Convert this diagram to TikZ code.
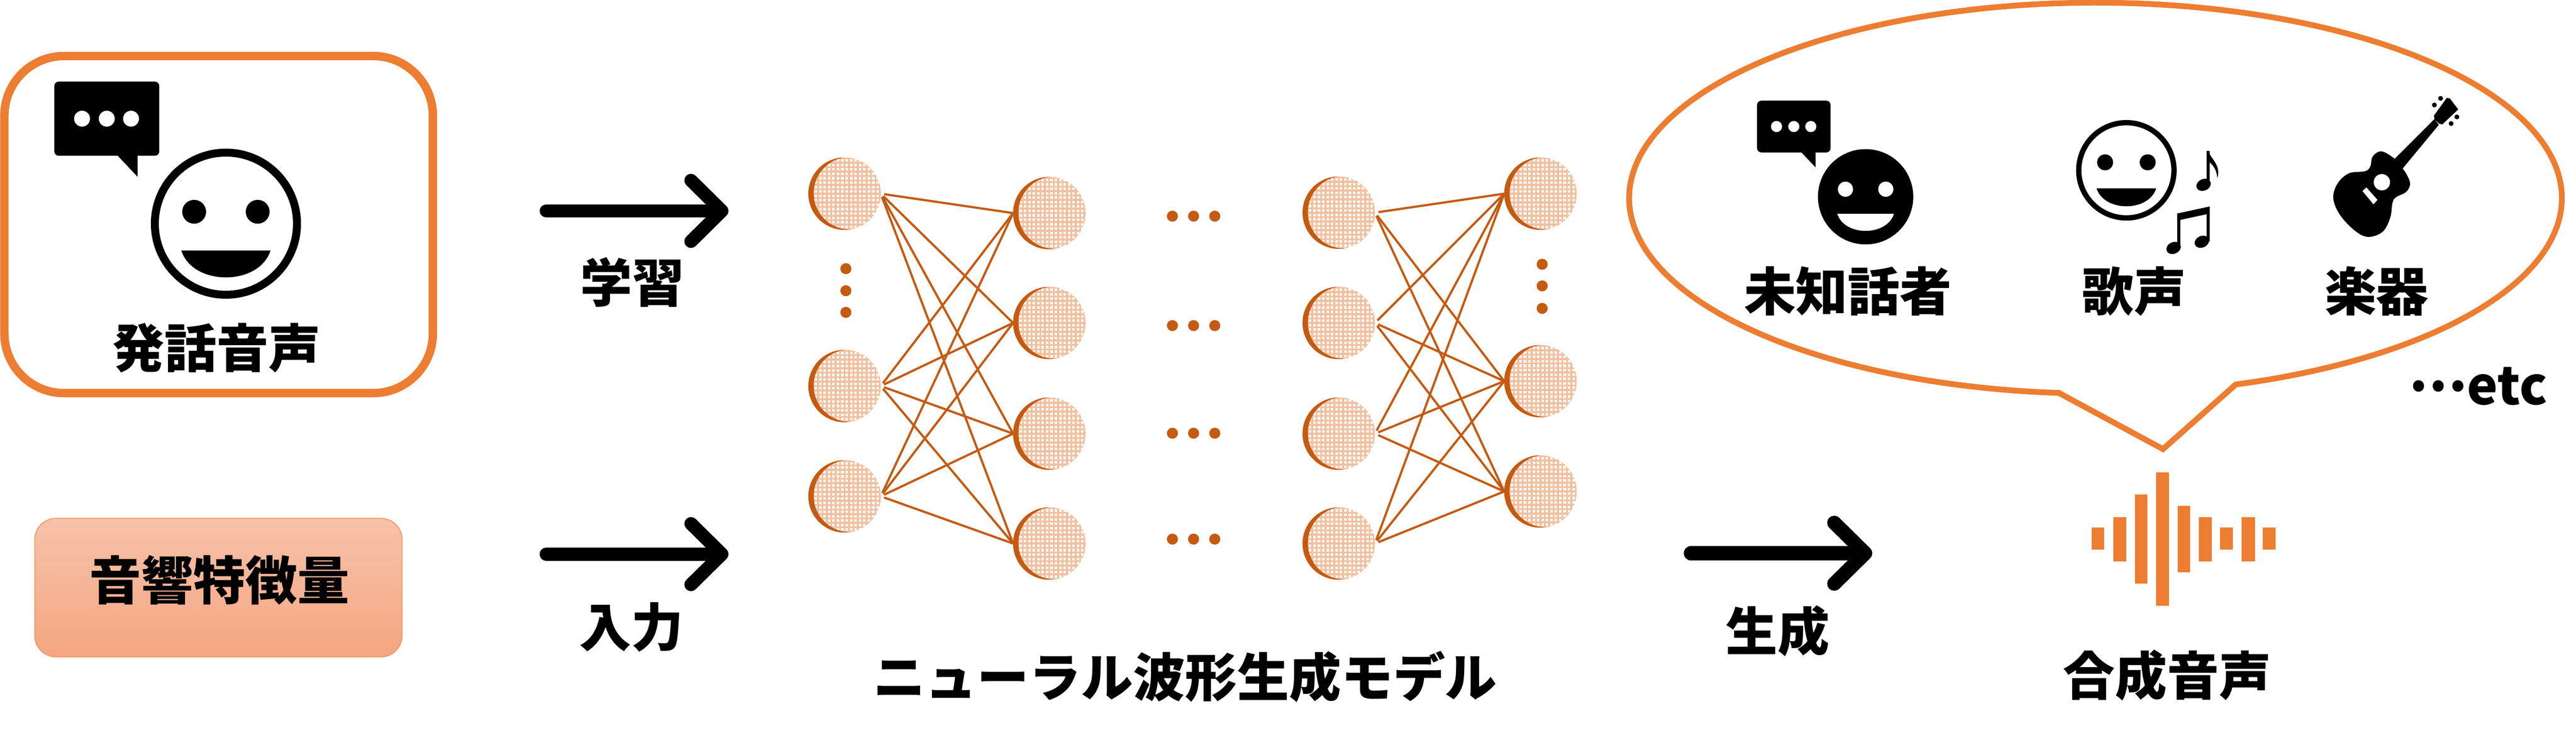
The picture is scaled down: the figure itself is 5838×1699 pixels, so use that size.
\documentclass[tikz,border=0pt]{standalone}
\usepackage{fontspec}
\setmainfont{Noto Sans CJK JP}
\usetikzlibrary{arrows.meta}
\definecolor{acc}{HTML}{ED7D31}
\definecolor{net}{HTML}{C55A11}
\definecolor{netgrid}{HTML}{EFC0A0}
\definecolor{netbase}{HTML}{FDF5EF}
\definecolor{boxtop}{HTML}{F6C2AA}
\definecolor{boxbot}{HTML}{F4A680}
\tikzset{
  lbl/.style={font=\fontsize{33.5pt}{40pt}\selectfont\bfseries, anchor=base, inner sep=0pt, outer sep=0pt, text=black},
  link/.style={draw=net, line width=0.05cm, shorten <=0.08cm},
  netdot/.style={fill=net},
  wavebar/.style={fill=acc},
  bigarrow/.style={line width=#1, line cap=round, draw=black,
    -{Straight Barb[length=0.70cm, width=1.38cm, round, line width=#1]}},
  neuron/.style={circle, minimum size=1.64cm, inner sep=0pt, outer sep=0pt, fill=netbase,
    path picture={
      \begin{scope}[shift={(path picture bounding box.center)}]
        \foreach \v in {-90,-80,...,90} {
          \draw[netgrid, line width=0.04cm] (\v,-90) -- (\v,90);
          \draw[netgrid, line width=0.04cm] (-90,\v) -- (90,\v);
        }
        \fill[net, even odd rule] (0,0) circle (0.84cm) (12,-1) circle (0.82cm);
      \end{scope}
    }},
  pics/spkbubble/.style={code={
    \fill[black, rounded corners=0.1cm] (0,0) rectangle (238,168);
    \fill[black] (142,166) -- (189,216) -- (189,166) -- cycle;
    \fill[white] (63,84) circle (0.18cm) (119,84) circle (0.18cm) (174,84) circle (0.18cm);
  }},
  pics/smile/.style 2 args={code={
    \fill[#1] (0,0) circle (1.6cm);
    \fill[black, even odd rule] (0,0) circle (1.7cm) (0,0) circle (1.52cm);
    \fill[#2] (-72,-27) circle (0.27cm) (72,-27) circle (0.27cm);
    \fill[#2] (-101,61) -- (101,61) .. controls (75,142) and (-75,142) .. cycle;
  }},
}
\begin{document}
\begin{tikzpicture}[x=0.01cm, y=-0.01cm]
\useasboundingbox (0,0) rectangle (5838,1699);
\fill[white] (0,0) rectangle (5838,1699);

% speech panel
\draw[acc, line width=0.19cm, rounded corners=1.35cm] (10,127) rectangle (981,891);
\pic at (123,185) {spkbubble};
\pic at (512,507) {smile={white}{black}};
\node[lbl] (speech) at (491,833) {発話音声};

% acoustic feature box
\node[draw=acc!80!white, line width=0.02cm, top color=boxtop, bottom color=boxbot,
      rounded corners=0.48cm, minimum width=8.32cm, minimum height=3.14cm, inner sep=0pt] (featbox) at (495,1332) {};
\node[lbl] (feat) at (497,1360) {音響特徴量};

% arrows
\coordinate (a1s) at (1238,478); \coordinate (a1e) at (1651,478);
\coordinate (a2s) at (1238,1256); \coordinate (a2e) at (1651,1256);
\coordinate (a3s) at (3832,1254); \coordinate (a3e) at (4243,1254);
\draw[bigarrow=0.30cm] (a1s) -- (a1e);
\draw[bigarrow=0.30cm] (a2s) -- (a2e);
\draw[bigarrow=0.32cm] (a3s) -- (a3e);
\node[lbl] (learn) at (1433,685) {学習};
\node[lbl] (input) at (1431,1466) {入力};
\node[lbl] (gen) at (4029,1475) {生成};

% network
\node[neuron] (a1) at (1914,439) {};
\node[neuron] (a2) at (1914,875) {};
\node[neuron] (a3) at (1914,1125) {};
\node[neuron] (b1) at (2378,483) {};
\node[neuron] (b2) at (2378,732) {};
\node[neuron] (b3) at (2378,983) {};
\node[neuron] (b4) at (2378,1232) {};
\node[neuron] (c1) at (3034,482) {};
\node[neuron] (c2) at (3034,732) {};
\node[neuron] (c3) at (3034,983) {};
\node[neuron] (c4) at (3034,1232) {};
\node[neuron] (d1) at (3491,439) {};
\node[neuron] (d2) at (3491,864) {};
\node[neuron] (d3) at (3491,1114) {};
\foreach \i in {1,2,3} \foreach \j in {1,2,3,4} \draw[link] (a\i.east) -- (b\j.west);
\foreach \i in {1,2,3,4} \foreach \j in {1,2,3} \draw[link] (c\i.east) -- (d\j.west);
\foreach \yy in {609,659,708} \fill[netdot] (1917,\yy) circle (0.125cm);
\foreach \yy in {599,648,699} \fill[netdot] (3495,\yy) circle (0.125cm);
\foreach \yy in {490,738,982,1222} \foreach \xx in {2657,2705,2753} \fill[netdot] (\xx,\yy) circle (0.125cm);
\node[lbl] (model) at (2686,1579) {ニューラル波形生成モデル};

% balloon
\draw[acc, line width=0.13cm, fill=white, line join=miter]
  plot[domain=94.5:432.5, samples=300] ({4749+1057*cos(\x)},{449+443*sin(\x)})
  -- (4902,1018) -- cycle;
\pic[scale=0.7] at (3982,228) {spkbubble};
\pic[scale=0.635] at (4228,446) {smile={black}{white}};
\pic[scale=0.67] at (4819,386) {smile={white}{black}};

% single note
\fill[black, rotate around={25:(4994,419)}] (4994,419) ellipse [x radius=0.17cm, y radius=0.13cm];
\fill[black] (5001,342) rectangle (5008,415);
\fill[black] (5004,342) .. controls (5012,362) and (5034,375) .. (5025,404)
  .. controls (5024,385) and (5015,372) .. (5004,366) -- cycle;
% beamed notes
\fill[black] (4934,484) -- (5008,468) -- (5008,484) -- (4934,500) -- cycle;
\fill[black] (4934,490) rectangle (4941,560);
\fill[black] (5001,470) rectangle (5008,548);
\fill[black, rotate around={25:(4926,562)}] (4926,562) ellipse [x radius=0.17cm, y radius=0.13cm];
\fill[black, rotate around={25:(4990,548)}] (4990,548) ellipse [x radius=0.17cm, y radius=0.13cm];

% guitar
\fill[black] plot[smooth cycle, tension=0.6] coordinates {
  (5427,360) (5397,343) (5377,355) (5372,377) (5360,388) (5323,393) (5297,417)
  (5288,450) (5303,487) (5337,523) (5367,537) (5400,525) (5417,493) (5422,460)
  (5430,447) (5453,435) (5462,417) (5455,397) (5445,382)};
\fill[black] (5427,360) -- (5517,270) -- (5527,283) -- (5445,382) -- (5420,380) -- cycle;
\fill[black, line join=round] (5516,262) -- (5545,222) -- (5552,223) -- (5571,248)
  -- (5535,282) -- (5527,280) -- (5517,270) -- cycle;
\fill[white] (5398,413) circle (0.185cm);
\fill[white] (5354,433) -- (5363,425) -- (5388,453) -- (5379,463) -- cycle;
\fill[black] (5531,223) circle (0.055cm) (5517,238) circle (0.055cm) (5568,265) circle (0.055cm) (5555,280) circle (0.055cm);

\node[lbl] (unk) at (4188,705) {未知話者};
\node[lbl] (sing) at (4837,705) {歌声};
\node[lbl] (inst) at (5386,705) {楽器};
\node[lbl] (etc) at (5616,917) {\raisebox{0.26em}{…}etc};

% waveform
\fill[wavebar] (4740,1196) rectangle (4769,1246);
\fill[wavebar] (4789,1172) rectangle (4819,1273);
\fill[wavebar] (4838,1121) rectangle (4866,1323);
\fill[wavebar] (4886,1071) rectangle (4916,1373);
\fill[wavebar] (4935,1146) rectangle (4963,1297);
\fill[wavebar] (4983,1172) rectangle (5012,1273);
\fill[wavebar] (5031,1196) rectangle (5060,1246);
\fill[wavebar] (5080,1172) rectangle (5110,1273);
\fill[wavebar] (5128,1196) rectangle (5157,1246);
\node[lbl] (synth) at (4911,1576) {合成音声};
\end{tikzpicture}
\end{document}
